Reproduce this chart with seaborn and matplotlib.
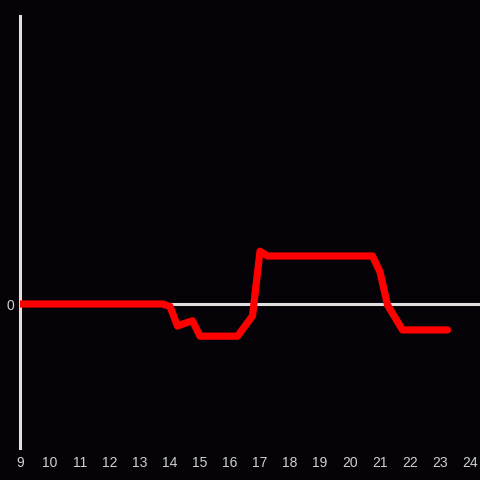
import matplotlib
matplotlib.use("Agg")
import matplotlib.pyplot as plt
import seaborn as sns
import pandas as pd

# quarter-hour samples from 9:00 to 23:15
hours = [9.0 + 0.25 * i for i in range(58)]
values = ([0.0] * 20 +                        # 9:00 - 13:45
          [-0.05, -0.46, -0.40, -0.35] +      # 14:00 - 14:45
          [-0.67] * 6 +                       # 15:00 - 16:15
          [-0.46, -0.25, 1.10] +              # 16:30 - 17:00
          [1.00] * 15 +                       # 17:15 - 20:45
          [0.67, -0.02, -0.28] +              # 21:00 - 21:30
          [-0.54] * 7)                        # 21:45 - 23:15
xticks = list(range(9, 25))

df = pd.DataFrame({"hour": hours, "value": values})

bg = "#050307"
sns.set_style("dark")
plt.rcParams["font.family"] = ["Liberation Sans", "DejaVu Sans"]

fig = plt.figure(figsize=(4.8, 4.8), dpi=100, facecolor=bg)
ax = fig.add_axes([20 / 480, 32 / 480, 460 / 480, 432 / 480])
ax.set_facecolor(bg)

ax.axhline(0, color="#e0e0e0", lw=2.2, zorder=1)
sns.lineplot(data=df, x="hour", y="value", ax=ax, color="#ff0000", lw=5.2, zorder=3)

ax.set_xlim(9, 9 + 460 / 30)
ax.set_ylim(-3, 6)
ax.set_xticks(xticks)
ax.set_xticklabels([str(t) for t in xticks])
ax.set_yticks([0])
ax.set_yticklabels(["0"])
ax.tick_params(colors="#d0d0d0", labelsize=10, length=0, pad=6)
ax.tick_params(axis="y", pad=4)
ax.set_xlabel("")
ax.set_ylabel("")
ax.grid(False)
for s in ["top", "right", "bottom"]:
    ax.spines[s].set_visible(False)
ax.spines["left"].set_color("#e0e0e0")
ax.spines["left"].set_linewidth(2.2)

fig.savefig("out.png", dpi=100, facecolor=bg)
